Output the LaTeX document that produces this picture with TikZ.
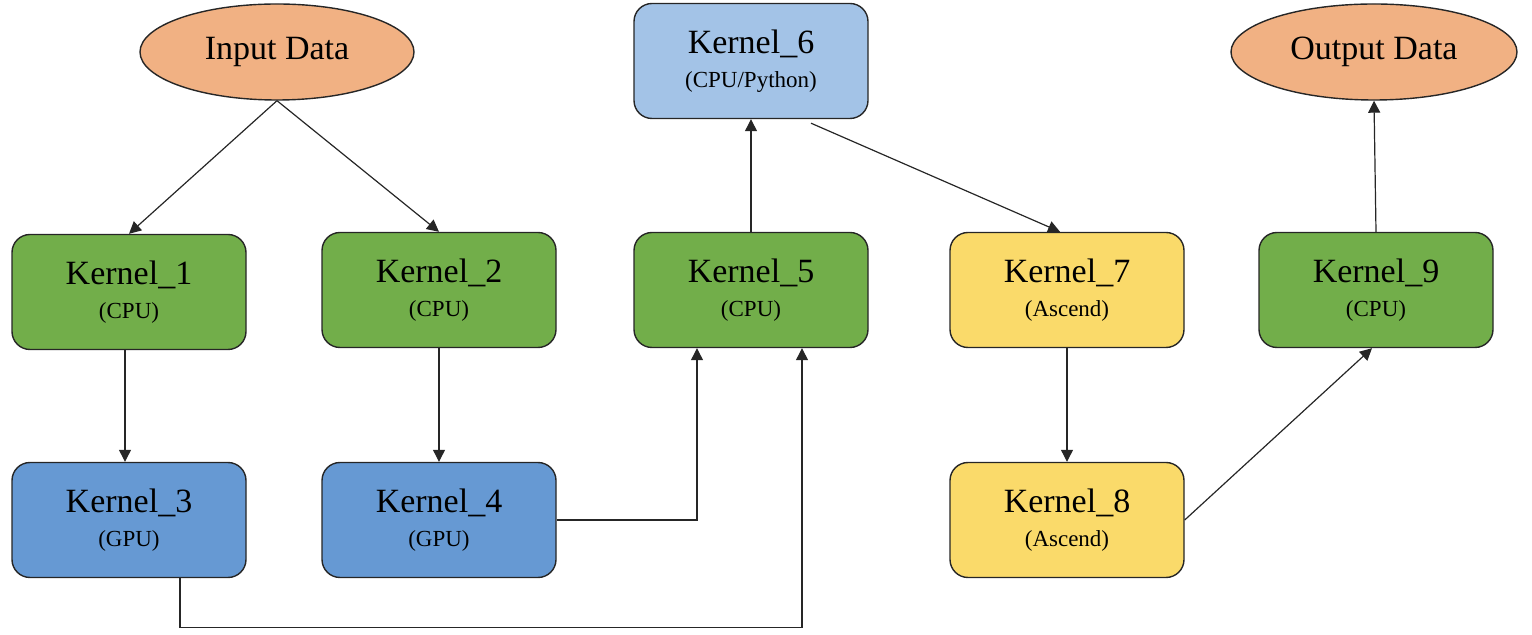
\documentclass[tikz,border=0pt]{standalone}
\usepackage{fontspec}
\setmainfont{Liberation Serif}
\usetikzlibrary{shapes.geometric,arrows.meta}

\definecolor{cpugreen}{HTML}{72AE4A}
\definecolor{gpublue}{HTML}{6699D3}
\definecolor{pyblue}{HTML}{A3C3E7}
\definecolor{ascyellow}{HTML}{FADA6A}
\definecolor{dataorange}{HTML}{F1B183}

% smaller second line naming the device
\newcommand{\devlabel}[1]{{\fontsize{11.5}{12}\selectfont #1}}

\begin{document}
\begin{tikzpicture}[x=0.5pt,y=-0.5pt,
  kernel/.style={draw=black!85, line width=0.7pt, rounded corners=9pt,
    minimum width=117pt, minimum height=57.5pt, align=center, inner sep=0pt,
    font=\fontsize{17}{16}\selectfont},
  data/.style={ellipse, draw=black!85, line width=0.7pt, fill=dataorange,
    minimum width=137pt, minimum height=48pt, inner sep=0pt,
    font=\fontsize{17}{20}\selectfont},
  flow/.style={-{Triangle[length=6pt,width=6pt]}, line width=0.6pt, draw=black!85}
]
\useasboundingbox (0,0) rectangle (1532,635);

% data endpoints
\node[data] (in) at (277,52) {Input Data};
\node[data, minimum width=143pt] (out) at (1374,52) {Output Data};

% kernels
\node[kernel, fill=pyblue]    (k6) at (751,61)   {Kernel\_6\\[1pt]\devlabel{(CPU/Python)}};
\node[kernel, fill=cpugreen]  (k1) at (129,292)  {Kernel\_1\\[1pt]\devlabel{(CPU)}};
\node[kernel, fill=cpugreen]  (k2) at (439,290)  {Kernel\_2\\[1pt]\devlabel{(CPU)}};
\node[kernel, fill=cpugreen]  (k5) at (751,290)  {Kernel\_5\\[1pt]\devlabel{(CPU)}};
\node[kernel, fill=ascyellow] (k7) at (1067,290) {Kernel\_7\\[1pt]\devlabel{(Ascend)}};
\node[kernel, fill=cpugreen]  (k9) at (1376,290) {Kernel\_9\\[1pt]\devlabel{(CPU)}};
\node[kernel, fill=gpublue]   (k3) at (129,520)  {Kernel\_3\\[1pt]\devlabel{(GPU)}};
\node[kernel, fill=gpublue]   (k4) at (439,520)  {Kernel\_4\\[1pt]\devlabel{(GPU)}};
\node[kernel, fill=ascyellow] (k8) at (1067,520) {Kernel\_8\\[1pt]\devlabel{(Ascend)}};

% data flow
\draw[flow] (in.south) -- (k1.north);
\draw[flow] (in.south) -- (k2.north);
\draw[flow] ([xshift=-2pt]k1.south) -- ([xshift=-2pt]k3.north);
\draw[flow] (k2.south) -- (k4.north);
\draw[flow] (k4.east) -| ([xshift=-27pt]k5.south);
\draw[flow] ([xshift=25.5pt]k3.south) -- ++(0,49) -| ([xshift=25.5pt]k5.south);
\draw[flow] (k5.north) -- (k6.south);
\draw[flow] ([xshift=30pt,yshift=-2pt]k6.south) -- ([xshift=-3.5pt]k7.north);
\draw[flow] (k7.south) -- (k8.north);
\draw[flow] (k8.east) -- ([xshift=-2pt]k9.south);
\draw[flow] (k9.north) -- (out.south);
\end{tikzpicture}
\end{document}
